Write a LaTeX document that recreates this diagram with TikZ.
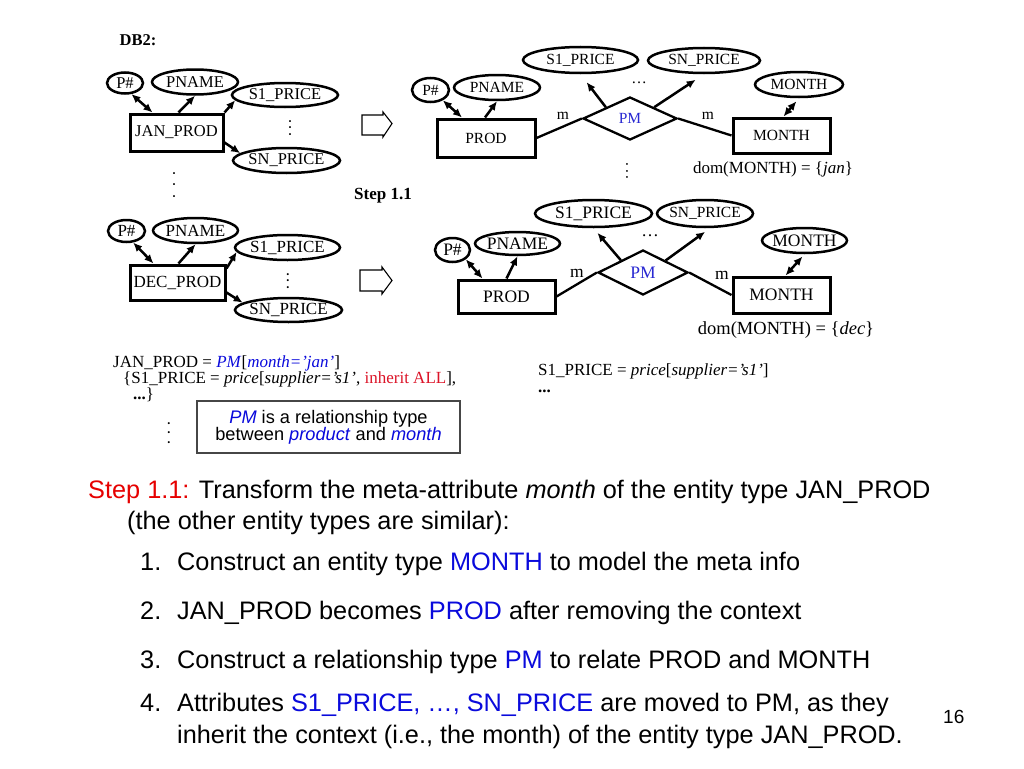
\documentclass[tikz,border=0pt]{standalone}
\usepackage{fontspec}
\setmainfont{Liberation Serif}
\setsansfont{Liberation Sans}
\usepackage{xcolor}
\usetikzlibrary{shapes.geometric,arrows.meta}
\definecolor{stepred}{RGB}{230,0,0}
\definecolor{inhred}{RGB}{220,20,40}
\definecolor{keyblue}{RGB}{10,10,220}
\definecolor{pmblue}{RGB}{40,40,210}
\definecolor{notegray}{RGB}{70,70,70}
\newcommand\vdotz[1]{.\hspace{#1}.\hspace{#1}.}
\newcommand\fsz[1]{\fontsize{#1}{1.2\dimexpr #1pt\relax}\selectfont}

\begin{document}
\begin{tikzpicture}[x=1pt,y=-1pt,>={Latex[length=9pt,width=8pt]},
  attr/.style={draw, ellipse, line width=2.5pt, inner sep=0pt, inner xsep=-4pt},
  ent/.style={draw, rectangle, line width=3pt, inner sep=0pt},
  rel/.style={draw, diamond, line width=2.3pt, inner sep=0pt, text=pmblue},
  link/.style={line width=2.5pt, ->},
  link2/.style={line width=2.5pt, <->},
  conn/.style={line width=2.3pt},
  dotz/.style={inner sep=0pt, rotate=-90},
  hollow/.style={draw, line width=1.1pt},
  line/.style={anchor=base west, inner sep=0pt},
  body/.style={font=\sffamily\fsz{25.3}, anchor=base west, inner sep=0pt}]
\fill[white] (0,0) rectangle (1024,768);
\useasboundingbox (0,0) rectangle (1024,768);

% DB2, January
\begin{scope}[font=\fsz{16.5}]
\node[font=\bfseries\fsz{16.5}] (db2) at (138,40) {DB2:};
\node[attr, minimum width=36pt, minimum height=21pt] (p1) at (125,83) {P\#};
\node[attr, minimum width=86pt, minimum height=25pt] (pn1) at (195,82) {PNAME};
\node[attr, minimum width=106pt, minimum height=24pt] (s1a) at (285,95) {S1\_PRICE};
\node[ent, minimum width=93pt, minimum height=37pt] (jan) at (176.5,132.5) {JAN\_PROD};
\node[attr, minimum width=107pt, minimum height=25pt] (sna) at (286.5,160.5) {SN\_PRICE};
\node[dotz] (dja) at (290,128) {\vdotz{2pt}};
\node[dotz] (djb) at (174,185) {\vdotz{7pt}};
\draw[link2] (p1.-60) -- ([xshift=-24pt]jan.north);
\draw[link] ([xshift=2pt]jan.north) -- (pn1.south);
\draw[link] (jan.north east) -- (s1a.186);
\draw[link] ([yshift=-10pt]jan.east) -- (sna.171);
\end{scope}

% DB2, December
\begin{scope}[font=\fsz{17}]
\node[attr, minimum width=37pt, minimum height=22pt] (p3) at (126.5,231) {P\#};
\node[attr, minimum width=85pt, minimum height=25pt] (pn3) at (195.5,230.5) {PNAME};
\node[attr, minimum width=105pt, minimum height=25pt] (s1c) at (287.5,247.5) {S1\_PRICE};
\node[ent, minimum width=95pt, minimum height=35pt] (dec) at (177.5,282.5) {DEC\_PROD};
\node[attr, minimum width=107pt, minimum height=24pt] (snc) at (288.5,310) {SN\_PRICE};
\node[dotz] (ddc) at (288,281) {\vdotz{2.5pt}};
\draw[link2] (p3.-60) -- ([xshift=-24pt]dec.north);
\draw[link] ([xshift=1pt]dec.north) -- (pn3.south);
\draw[link] ([yshift=-5pt]dec.north east) -- (s1c.185);
\draw[link] ([yshift=-10pt]dec.east) -- (snc.171);
\end{scope}

% step arrows
\draw[hollow] (362,115) -- (383,115) -- (383,112) -- (392,123.5) -- (383,137) -- (383,135) -- (362,135) -- cycle;
\draw[hollow] (360,270) -- (382,270) -- (382,267) -- (392,280.5) -- (382,294) -- (382,291) -- (360,291) -- cycle;
\node[font=\bfseries\fsz{17}] (step) at (383,196) {Step 1.1};

% ER, January
\begin{scope}[font=\fsz{15.5}]
\node[attr, minimum width=115pt, minimum height=26pt] (s1b) at (580.5,60) {S1\_PRICE};
\node[attr, minimum width=112pt, minimum height=25pt] (snb) at (704,60.5) {SN\_PRICE};
\node[inner sep=0pt] (elb) at (639,83) {…};
\node[attr, minimum width=88pt, minimum height=25pt] (mb) at (799,84.5) {MONTH};
\node[attr, minimum width=37pt, minimum height=24pt] (p2) at (430.5,90) {P\#};
\node[attr, minimum width=86pt, minimum height=25pt] (pn2) at (497,87.5) {PNAME};
\node[ent, minimum width=98pt, minimum height=38pt] (prod2) at (486,138) {PROD};
\node[rel, minimum width=94pt, minimum height=43pt] (pm2) at (630,118.5) {PM};
\node[ent, minimum width=97pt, minimum height=35pt] (month2) at (781.5,135.5) {MONTH};
\node (mb1) at (563,116) {m};
\node (mb2) at (708,116) {m};
\node[dotz] (dmb) at (627,171) {\vdotz{3pt}};
\node[font=\fsz{17}] (domb) at (773,169) {dom(MONTH) = \{\textit{jan}\}};
\draw[link2] (p2.-40) -- ([xshift=-24pt]prod2.north);
\draw[link] ([xshift=-1pt]prod2.north) -- (pn2.south);
\draw[conn] (prod2.east) -- (pm2.west);
\draw[conn] (pm2.east) -- (month2.west);
\draw[link, shorten >=10pt] (pm2.155) -- (s1b.south);
\draw[link, shorten >=10pt] (pm2.25) -- (snb.south);
\draw[link2, shorten >=4pt] ([xshift=2pt]month2.north) -- (mb.south);
\end{scope}

% ER, December
\begin{scope}[font=\fsz{17.5}]
\node[attr, minimum width=117pt, minimum height=27pt] (s1d) at (593.5,213.5) {S1\_PRICE};
\node[attr, minimum width=96pt, minimum height=27pt, font=\fsz{15.5}] (snd) at (705,213.5) {SN\_PRICE};
\node[inner sep=0pt] (eld) at (650,236) {…};
\node[attr, minimum width=85pt, minimum height=25pt] (md) at (804.5,240.5) {MONTH};
\node[attr, minimum width=35pt, minimum height=24pt] (p4) at (452.5,250) {P\#};
\node[attr, minimum width=85pt, minimum height=23pt] (pn4) at (517.5,243.5) {PNAME};
\node[ent, minimum width=97pt, minimum height=33pt] (prod4) at (506.5,296.5) {PROD};
\node[rel, minimum width=90pt, minimum height=45pt] (pm4) at (643,272.5) {PM};
\node[ent, minimum width=97pt, minimum height=36pt] (month4) at (781.5,295) {MONTH};
\node (md1) at (577,273) {m};
\node (md2) at (722,275) {m};
\node[font=\fsz{18.5}] (domd) at (786,330) {dom(MONTH) = \{\textit{dec}\}};
\draw[link2] (p4.-35) -- ([xshift=-24pt]prod4.north);
\draw[link] (prod4.north) -- (pn4.south);
\draw[conn] (prod4.east) -- (pm4.west);
\draw[conn] (pm4.east) -- (month4.west);
\draw[link, shorten >=6pt] (pm4.151) -- (s1d.south);
\draw[link, shorten >=6pt] (pm4.28) -- ([xshift=5pt]snd.south);
\draw[link2, shorten >=3pt] ([xshift=4pt]month4.north) -- (md.south);
\end{scope}

% mappings
\begin{scope}[font=\fsz{17}]
\node[line] (mapa) at (113,367) {JAN\_PROD = \textcolor{keyblue}{\textit{PM}}[\textcolor{keyblue}{\textit{month='jan'}}]};
\node[line] (mapb) at (123,383) {\{S1\_PRICE = \textit{price}[\textit{supplier='s1'}, \textcolor{inhred}{inherit ALL}],};
\node[line] (mapc) at (133,399) {\textbf{...}\}};
\node[dotz] (dmap) at (169,433) {\vdotz{5pt}};
\node[line] (mapd) at (538,375) {S1\_PRICE = \textit{price}[\textit{supplier='s1'}]};
\node[line] (mape) at (538,392) {\textbf{...}};
\end{scope}
\node[draw=notegray, line width=1.2pt, minimum width=263pt, minimum height=52pt,
  align=center, font=\sffamily\fontsize{18.2}{17}\selectfont] (note) at (328.5,427)
  {\textcolor{keyblue}{\textit{PM}} is a relationship type\\between \textcolor{keyblue}{\textit{product}} and \textcolor{keyblue}{\textit{month}}};

% explanation
\node[body] (expl) at (88,498) {\textcolor{stepred}{Step 1.1:} Transform the meta-attribute \textit{month} of the entity type JAN\_PROD};
\node[body] (expm) at (127,529) {(the other entity types are similar):};
\node[body] (n1) at (140,570) {1.};
\node[body] (t1) at (177,570) {Construct an entity type \textcolor{keyblue}{MONTH} to model the meta info};
\node[body] (n2) at (140,619) {2.};
\node[body] (t2) at (177,619) {JAN\_PROD becomes \textcolor{keyblue}{PROD} after removing the context};
\node[body] (n3) at (140,668) {3.};
\node[body] (t3) at (177,668) {Construct a relationship type \textcolor{keyblue}{PM} to relate PROD and MONTH};
\node[body] (n4) at (140,711) {4.};
\node[body] (t4) at (177,711) {Attributes \textcolor{keyblue}{S1\_PRICE, …, SN\_PRICE} are moved to PM, as they};
\node[body] (t4b) at (177,743) {inherit the context (i.e., the month) of the entity type JAN\_PROD.};
\node[body, font=\sffamily\fsz{19}] (page) at (943,723) {16};
\end{tikzpicture}
\end{document}
